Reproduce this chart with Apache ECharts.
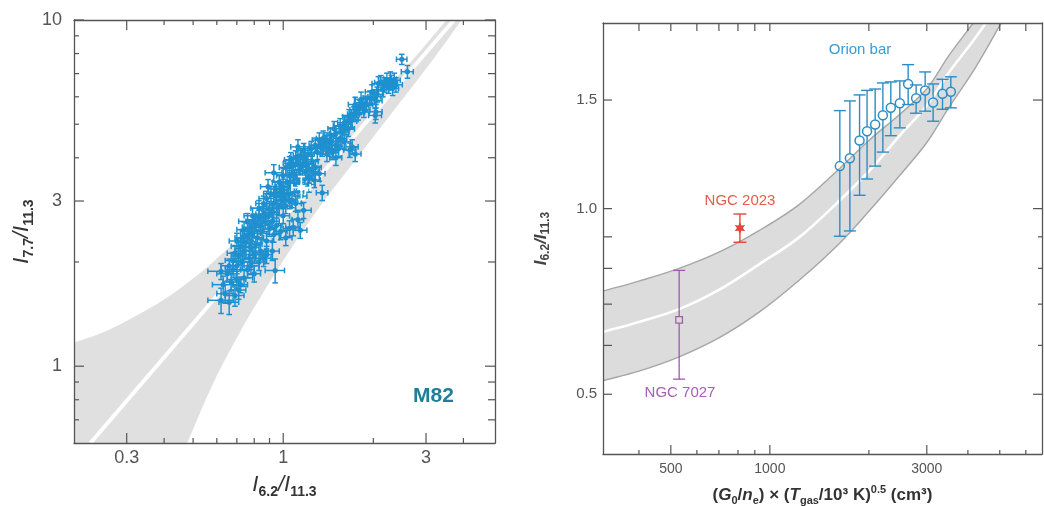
<!DOCTYPE html>
<html>
<head>
<meta charset="utf-8">
<script src="https://cdn.jsdelivr.net/npm/echarts@6.0.0/dist/echarts.min.js"></script>
<style>
html,body{margin:0;padding:0;background:#fff;}
#chart{width:1044px;height:506px;}
</style>
</head>
<body>
<div id="chart"></div>
<script>
// ---------------- DATA ----------------
// Left panel (M82): [I6.2/I11.3, I7.7/I11.3, xErr, yErr]
const m82Points = [
  [0.62,1.55,0.06,0.13],[0.66,1.53,0.05,0.12],[0.64,1.62,0.04,0.10],[0.69,1.60,0.05,0.11],[0.71,1.66,0.04,0.10],
  [0.63,1.72,0.05,0.10],[0.67,1.75,0.04,0.09],[0.70,1.78,0.05,0.10],[0.65,1.85,0.05,0.09],[0.68,1.90,0.04,0.10],
  [0.72,1.72,0.04,0.09],[0.74,1.80,0.05,0.10],[0.62,1.88,0.06,0.10],[0.66,1.95,0.04,0.09],[0.94,1.89,0.07,0.15],
  [0.70,1.95,0.04,0.10],[0.73,2.00,0.05,0.11],[0.76,1.90,0.04,0.10],[0.78,1.95,0.05,0.11],[0.80,1.85,0.04,0.10],
  [0.71,2.08,0.04,0.11],[0.74,2.15,0.05,0.12],[0.77,2.05,0.04,0.11],[0.80,2.10,0.05,0.12],[0.83,2.00,0.04,0.11],
  [0.69,2.12,0.04,0.11],[0.72,2.22,0.05,0.12],[0.75,2.28,0.04,0.12],[0.78,2.20,0.05,0.11],[0.81,2.25,0.04,0.12],
  [0.84,2.15,0.05,0.12],[0.86,2.05,0.05,0.11],[0.88,2.10,0.04,0.12],[0.92,2.15,0.05,0.13],[0.68,2.02,0.04,0.11],
  [0.73,2.35,0.04,0.12],[0.77,2.45,0.05,0.13],[0.80,2.62,0.05,0.13],[0.74,2.48,0.04,0.13],[0.70,2.30,0.04,0.12],
  [0.76,2.62,0.05,0.14],[0.79,2.72,0.05,0.14],
  [0.76,2.38,0.04,0.12],[0.79,2.42,0.05,0.13],[0.82,2.35,0.04,0.12],[0.85,2.45,0.05,0.13],[0.88,2.30,0.04,0.12],
  [0.78,2.52,0.05,0.13],[0.81,2.58,0.04,0.13],[0.84,2.55,0.05,0.14],[0.87,2.62,0.05,0.13],[0.90,2.50,0.04,0.13],
  [0.93,2.40,0.05,0.12],[0.83,2.68,0.04,0.14],[0.86,2.75,0.05,0.14],[0.89,2.70,0.04,0.13],[0.92,2.62,0.05,0.14],
  [0.95,2.55,0.04,0.13],[0.98,2.45,0.05,0.13],[1.02,2.35,0.05,0.12],[1.05,2.50,0.05,0.13],
  [1.08,2.52,0.06,0.14],[1.14,2.47,0.06,0.13],[1.17,2.82,0.07,0.15],[1.12,2.65,0.05,0.14],
  [0.83,2.86,0.05,0.15],[0.86,2.95,0.05,0.15],
  [0.90,2.85,0.05,0.14],[0.93,2.95,0.05,0.15],[0.96,2.88,0.04,0.14],[0.99,3.00,0.05,0.15],[1.02,2.90,0.05,0.14],
  [0.95,3.10,0.05,0.16],[0.98,3.18,0.05,0.16],[1.01,3.08,0.04,0.15],[1.04,3.15,0.05,0.16],[1.07,3.02,0.05,0.15],
  [1.00,3.30,0.05,0.17],[1.03,3.40,0.05,0.17],[1.06,3.28,0.05,0.16],[1.09,3.35,0.05,0.17],[1.12,3.20,0.05,0.16],
  [1.15,3.10,0.05,0.15],[0.93,3.62,0.06,0.20],
  [0.88,3.05,0.05,0.15],[0.91,3.15,0.05,0.16],[0.94,3.25,0.05,0.16],[0.97,3.40,0.05,0.17],[0.89,3.30,0.05,0.16],
  [1.05,3.00,0.05,0.15],[1.10,2.95,0.05,0.15],[0.92,2.78,0.05,0.14],[1.00,2.72,0.05,0.14],
  [1.05,3.55,0.05,0.17],[1.08,3.62,0.05,0.18],[1.11,3.50,0.05,0.17],[1.14,3.70,0.06,0.18],[1.08,3.80,0.05,0.18],
  [1.12,3.88,0.05,0.19],[1.16,3.78,0.06,0.18],[1.19,3.65,0.06,0.18],[1.22,3.55,0.06,0.17],[1.10,4.00,0.05,0.19],
  [1.14,4.05,0.06,0.20],[1.18,3.95,0.06,0.19],[1.21,4.10,0.06,0.20],[1.25,3.90,0.06,0.19],[1.28,3.75,0.06,0.18],
  [1.32,3.60,0.06,0.18],[1.35,3.17,0.06,0.16],[1.17,4.20,0.06,0.20],[1.24,4.25,0.06,0.21],[1.30,4.15,0.06,0.20],
  [1.27,3.45,0.06,0.17],[1.22,3.35,0.06,0.17],[1.06,3.95,0.05,0.19],
  [1.00,3.55,0.05,0.17],[1.02,3.75,0.05,0.18],[1.05,3.85,0.05,0.18],[1.13,3.40,0.05,0.17],[1.18,3.48,0.06,0.17],
  [1.25,3.65,0.06,0.18],[1.20,3.85,0.06,0.19],[1.12,4.30,0.06,0.21],
  [1.28,4.35,0.06,0.21],[1.33,4.30,0.07,0.21],[1.38,4.40,0.07,0.22],[1.42,4.25,0.07,0.21],[1.36,4.55,0.07,0.23],
  [1.40,4.50,0.07,0.22],[1.45,4.45,0.07,0.22],[1.50,4.35,0.07,0.21],[1.46,4.15,0.07,0.20],[1.40,4.10,0.07,0.20],
  [1.55,4.55,0.08,0.23],[1.50,4.00,0.07,0.20],[1.32,4.50,0.07,0.22],
  [1.35,4.25,0.07,0.21],[1.44,4.65,0.07,0.23],[1.50,4.70,0.07,0.23],[1.48,4.85,0.07,0.24],[1.55,4.95,0.08,0.24],
  [1.53,4.25,0.07,0.21],[1.60,4.45,0.08,0.22],
  [1.67,4.21,0.08,0.20],[1.74,4.10,0.08,0.20],[1.70,4.30,0.08,0.21],
  [1.58,4.75,0.08,0.23],[1.62,4.90,0.08,0.24],[1.65,4.85,0.08,0.24],[1.60,5.05,0.08,0.25],[1.68,5.10,0.08,0.25],
  [1.66,5.25,0.08,0.26],[1.72,5.35,0.08,0.26],[1.70,5.15,0.08,0.25],[1.76,5.50,0.09,0.27],[1.80,5.60,0.09,0.27],
  [1.78,5.40,0.09,0.26],[1.84,5.65,0.09,0.28],[1.88,5.75,0.09,0.28],[1.90,5.70,0.09,0.28],[1.86,5.50,0.09,0.27],
  [1.74,5.70,0.09,0.28],[1.82,5.90,0.09,0.29],[1.95,5.95,0.10,0.29],[1.98,6.20,0.10,0.30],
  [2.02,6.00,0.10,0.29],[2.04,5.85,0.10,0.28],[2.06,6.10,0.10,0.30],[2.04,5.43,0.10,0.27],[2.03,5.30,0.10,0.26],
  [2.08,6.55,0.10,0.31],[2.12,6.60,0.10,0.31],[2.15,6.30,0.10,0.30],[2.18,6.50,0.11,0.31],[2.22,6.70,0.11,0.32],
  [2.25,6.45,0.11,0.31],[2.30,6.60,0.11,0.32],[2.35,6.70,0.11,0.32],[2.32,6.35,0.11,0.30],[2.38,6.50,0.12,0.31],
  [2.28,6.75,0.11,0.33],
  [2.49,7.70,0.10,0.26],[2.60,7.09,0.12,0.30]
];
const m82Nucleus = [1.15, 3.28, 0.08, 0.25];
// Left band edges and centre line [x, y]
const m82BandUpper = [[0.2,1.17],[0.252,1.256],[0.325,1.404],[0.42,1.604],[0.542,1.894],[0.617,2.09],[0.701,2.31],[0.817,2.64],[0.882,2.86],[1.5,4.5],[2.5,7.1],[3.513,10],[4.2,12]];
const m82BandLower = [[0.477,0.598],[0.586,0.899],[0.719,1.26],[0.85,1.61],[1.0,2.02],[1.17,2.48],[1.33,2.90],[1.5,3.33],[1.9,4.34],[2.455,5.78],[3.17,7.70],[3.92,9.93],[4.6,12.0]];
const m82CenterLine = [[0.227,0.6],[3.72,10]];

// Right panel: model band
const bandX      = [311, 400, 530, 700, 930, 1230, 1630, 2000, 2500, 3000, 3500, 4200, 5000];
const bandCenter = [0.631,0.655,0.687,0.738,0.813,0.899,1.031,1.149,1.319,1.470,1.662,1.887,2.159];
const bandUpper  = [0.735,0.763,0.800,0.850,0.922,1.016,1.162,1.290,1.427,1.565,1.770,2.017,2.298];
const bandLower  = [0.526,0.545,0.575,0.617,0.680,0.766,0.879,0.990,1.137,1.280,1.458,1.687,1.980];
// Orion bar
const orionX  = [1632,1751,1874,1975,2090,2206,2332,2484,2633,2784,2966,3136,3349,3550];
const orionY  = [1.172,1.207,1.290,1.335,1.369,1.417,1.457,1.482,1.593,1.510,1.554,1.486,1.535,1.547];
const orionLo = [0.902,0.920,1.051,1.117,1.172,1.235,1.313,1.352,1.475,1.428,1.439,1.386,1.449,1.457];
const orionHi = [1.442,1.495,1.529,1.555,1.563,1.599,1.605,1.611,1.712,1.587,1.666,1.593,1.621,1.636];
// NGC 2023 and NGC 7027: [x, y, low, high]
const ngc2023 = [811, 0.930, 0.882, 0.980];
const ngc7027 = [530, 0.660, 0.529, 0.794];

// Ticks and labels
const lXLabels = [0.3, 1, 3];
const lXMinor  = [0.4,0.5,0.6,0.7,0.8,0.9,2,4];
const lYLabels = [1, 3, 10];
const lYMinor  = [0.7,0.8,0.9,2,4,5,6,7,8,9];
const rXLabels = [500, 1000, 3000];
const rXMinor  = [400,600,700,800,900,2000,4000,5000,6000];
const rYLabels = [0.5, 1.0, 1.5];
const rYMinor  = [0.6,0.7,0.8,0.9];

// ---------------- CHART ----------------
const FONT = "'Liberation Sans', Arial, Helvetica, sans-serif";
const LG = Math.log10;
const AX = '#555';
const chart = echarts.init(document.getElementById('chart'), null, {renderer:'canvas'});

const lRange = {x:[0.2, 5.1], y:[0.6, 10]};
const rRange = {x:[311, 6720], y:[0.4, 2.0]};

// label / frame axes (value axes in log10 space, aligned with hidden log axes)
function tAxis(o) {
  const ax = {
    type:'value', gridIndex:o.grid, position:o.pos,
    min:LG(o.range[0]), max:LG(o.range[1]), z:10, silent:true,
    axisLine:{show:true, onZero:false, lineStyle:{color:AX, width:1.3}},
    axisTick:{show:false},
    axisLabel:{show:false},
    splitLine:{show:false}
  };
  if (o.labels) {
    ax.axisLabel = {show:true, customValues:o.labels.map(LG), formatter:o.fmt,
      fontSize:o.fs, color:'#555', margin:o.margin, fontFamily:FONT};
  }
  if (o.name) {
    ax.name = o.name; ax.nameLocation = 'middle'; ax.nameGap = o.nameGap;
    ax.nameTextStyle = o.nameStyle;
  }
  return ax;
}
const fmtL = v => String(Math.round(Math.pow(10, v) * 10) / 10);
const fmtRY = v => Math.pow(10, v).toFixed(1);
const fmtRX = v => String(Math.round(Math.pow(10, v)));

const richBig = {
  m:{fontSize:22, fontStyle:'italic', fontFamily:FONT, color:'#333', lineHeight:28},
  s:{fontSize:14, fontWeight:'bold', fontFamily:FONT, color:'#333', lineHeight:12, verticalAlign:'bottom'}
};
const richSmall = {
  m:{fontSize:17, fontStyle:'italic', fontWeight:'bold', fontFamily:FONT, color:'#444', lineHeight:22},
  s:{fontSize:12, fontWeight:'bold', fontFamily:FONT, color:'#444', lineHeight:10, verticalAlign:'bottom'}
};
const richXR = {
  b:{fontSize:17, fontWeight:'bold', fontFamily:FONT, color:'#333', lineHeight:22},
  bi:{fontSize:17, fontWeight:'bold', fontStyle:'italic', fontFamily:FONT, color:'#333', lineHeight:22},
  sb:{fontSize:11, fontWeight:'bold', fontFamily:FONT, color:'#333', lineHeight:10, verticalAlign:'bottom'},
  sp:{fontSize:11, fontWeight:'bold', fontFamily:FONT, color:'#333', lineHeight:10, verticalAlign:'top'}
};

const xAxes = [
  {type:'log', gridIndex:0, min:lRange.x[0], max:lRange.x[1], show:false},
  {type:'log', gridIndex:1, min:rRange.x[0], max:rRange.x[1], show:false},
  tAxis({grid:0, pos:'bottom', range:lRange.x, labels:lXLabels, fmt:fmtL, fs:18, margin:6,
         name:'{m|I}{s|6.2}{m|/I}{s|11.3}', nameGap:28, nameStyle:{rich:richBig}}),
  tAxis({grid:0, pos:'top', range:lRange.x}),
  tAxis({grid:1, pos:'bottom', range:rRange.x, labels:rXLabels, fmt:fmtRX, fs:14, margin:8,
         name:'{b|(}{bi|G}{sb|0}{b|/}{bi|n}{sb|e}{b|) × (}{bi|T}{sb|gas}{b|/10³ K)}{sp|0.5}{b| (cm³)}', nameGap:30, nameStyle:{rich:richXR}}),
  tAxis({grid:1, pos:'top', range:rRange.x})
];
const yAxes = [
  {type:'log', gridIndex:0, min:lRange.y[0], max:lRange.y[1], show:false},
  {type:'log', gridIndex:1, min:rRange.y[0], max:rRange.y[1], show:false},
  tAxis({grid:0, pos:'left', range:lRange.y, labels:lYLabels, fmt:fmtL, fs:18, margin:12,
         name:'{m|I}{s|7.7}{m|/I}{s|11.3}', nameGap:38, nameStyle:{rich:richBig}}),
  tAxis({grid:0, pos:'right', range:lRange.y}),
  tAxis({grid:1, pos:'left', range:rRange.y, labels:rYLabels, fmt:fmtRY, fs:15, margin:6,
         name:'{m|I}{s|6.2}{m|/I}{s|11.3}', nameGap:51, nameStyle:{rich:richSmall}}),
  tAxis({grid:1, pos:'right', range:rRange.y})
];

// inward tick marks drawn through the data axes
function tickSeries(idx, range, specs) {
  return {
    type:'custom', xAxisIndex:idx, yAxisIndex:idx, clip:false, silent:true, z:10,
    data:[[range.x[0], range.y[0]]],
    renderItem(params, api) {
      const cs = params.coordSys;
      const ch = [];
      const st = {stroke:AX, lineWidth:1.2};
      specs.forEach(s => s.vals.forEach(v => {
        if (s.side === 'bottom' || s.side === 'top') {
          const x = api.coord([v, range.y[0]])[0];
          const y0 = s.side === 'bottom' ? cs.y + cs.height : cs.y;
          const y1 = s.side === 'bottom' ? y0 - s.len : y0 + s.len;
          ch.push({type:'line', shape:{x1:x, y1:y0, x2:x, y2:y1}, style:st});
        } else {
          const y = api.coord([range.x[0], v])[1];
          const x0 = s.side === 'left' ? cs.x : cs.x + cs.width;
          const x1 = s.side === 'left' ? x0 + s.len : x0 - s.len;
          ch.push({type:'line', shape:{x1:x0, y1:y, x2:x1, y2:y}, style:st});
        }
      }));
      return {type:'group', children:ch};
    }
  };
}

function starPts(cx, cy, R, r, n) {
  const p = [];
  for (let i = 0; i < 2 * n; i++) {
    const a = -Math.PI / 2 + i * Math.PI / n;
    const rr = i % 2 === 0 ? R : r;
    p.push([cx + rr * Math.cos(a), cy + rr * Math.sin(a)]);
  }
  return p;
}
function ext(a, b) { return [2 * a[0] - b[0], 2 * a[1] - b[1]]; }

// Error-bar series: rows [x, y, xlo, xhi, ylo, yhi]
function errSeries(o) {
  return {
    type:'custom', xAxisIndex:o.axis, yAxisIndex:o.axis, clip:true, silent:true, z:o.z || 3,
    data:o.data, encode:{x:[0,2,3], y:[1,4,5]},
    renderItem(params, api) {
      const x = api.value(0), y = api.value(1);
      const c = api.coord([x, y]);
      const st = {stroke:o.color, lineWidth:o.lw, fill:null};
      const ch = [];
      const xlo = api.value(2), xhi = api.value(3);
      if (xlo !== xhi) {
        const a = api.coord([xlo, y])[0], b = api.coord([xhi, y])[0];
        ch.push({type:'line', shape:{x1:a, y1:c[1], x2:b, y2:c[1]}, style:st});
        ch.push({type:'line', shape:{x1:a, y1:c[1]-o.cap, x2:a, y2:c[1]+o.cap}, style:st});
        ch.push({type:'line', shape:{x1:b, y1:c[1]-o.cap, x2:b, y2:c[1]+o.cap}, style:st});
      }
      const lo = api.coord([x, api.value(4)])[1], hi = api.coord([x, api.value(5)])[1];
      const g = o.gap || 0;
      if (g) {
        ch.push({type:'line', shape:{x1:c[0], y1:hi, x2:c[0], y2:c[1]-g}, style:st});
        ch.push({type:'line', shape:{x1:c[0], y1:c[1]+g, x2:c[0], y2:lo}, style:st});
      } else {
        ch.push({type:'line', shape:{x1:c[0], y1:hi, x2:c[0], y2:lo}, style:st});
      }
      ch.push({type:'line', shape:{x1:c[0]-o.cap, y1:hi, x2:c[0]+o.cap, y2:hi}, style:st});
      ch.push({type:'line', shape:{x1:c[0]-o.cap, y1:lo, x2:c[0]+o.cap, y2:lo}, style:st});
      if (o.marker === 'dot') {
        ch.push({type:'circle', shape:{cx:c[0], cy:c[1], r:o.size}, style:{fill:o.color}});
      } else if (o.marker === 'ring') {
        ch.push({type:'circle', shape:{cx:c[0], cy:c[1], r:o.size}, style:{fill:null, stroke:o.color, lineWidth:1.5}});
      } else if (o.marker === 'square') {
        ch.push({type:'rect', shape:{x:c[0]-o.size, y:c[1]-o.size, width:2*o.size, height:2*o.size}, style:{fill:null, stroke:o.color, lineWidth:1.2}});
      } else if (o.marker === 'star') {
        ch.push({type:'polygon', shape:{points:starPts(c[0], c[1], o.size, o.size*0.5, 6)}, style:{fill:o.color}});
      }
      return {type:'group', children:ch};
    }
  };
}

const m82Rows = m82Points.map(p => [p[0], p[1], p[0]-p[2], p[0]+p[2], p[1]-p[3], p[1]+p[3]]);
const nucRow = [m82Nucleus[0], m82Nucleus[1], m82Nucleus[0]-m82Nucleus[2], m82Nucleus[0]+m82Nucleus[2], m82Nucleus[1]-m82Nucleus[3], m82Nucleus[1]+m82Nucleus[3]];
const orionRows = orionX.map((x, i) => [x, orionY[i], x, x, orionLo[i], orionHi[i]]);
const SM = 0.35;

const series = [
  // left band
  {type:'custom', xAxisIndex:0, yAxisIndex:0, clip:true, silent:true, z:1, data:[[1,1]],
   renderItem(params, api) {
     const cs = params.coordSys;
     const up = m82BandUpper.map(p => api.coord(p));
     const lo = m82BandLower.map(p => api.coord(p));
     const pts = [ext(up[0], up[1])].concat(up, [ext(up[up.length-1], up[up.length-2])],
       [ext(lo[lo.length-1], lo[lo.length-2])], lo.slice().reverse(), [ext(lo[0], lo[1])],
       [[cs.x - 150, cs.y + cs.height + 150]]);
     return {type:'polygon', shape:{points:pts, smooth:SM}, style:{fill:'#e0e0e0'}};
   }},
  {type:'line', xAxisIndex:0, yAxisIndex:0, data:m82CenterLine, symbol:'none', silent:true, z:2,
   lineStyle:{color:'#fff', width:4}, animation:false},
  errSeries({axis:0, data:m82Rows, color:'#1e90cf', lw:1.5, cap:2.8, marker:'dot', size:2.6, z:3}),
  errSeries({axis:0, data:[nucRow], color:'#ffffff', lw:1.6, cap:3.5, marker:'star', size:5.5, z:4}),
  // right band
  {type:'custom', xAxisIndex:1, yAxisIndex:1, clip:true, silent:true, z:1, data:[[1000,1]],
   renderItem(params, api) {
     const up = bandX.map((x, i) => api.coord([x, bandUpper[i]]));
     const lo = bandX.map((x, i) => api.coord([x, bandLower[i]]));
     const ce = bandX.map((x, i) => api.coord([x, bandCenter[i]]));
     const n = bandX.length;
     const upE = [ext(up[0], up[1])].concat(up, [ext(up[n-1], up[n-2])]);
     const loE = [ext(lo[0], lo[1])].concat(lo, [ext(lo[n-1], lo[n-2])]);
     const ceE = [ext(ce[0], ce[1])].concat(ce, [ext(ce[n-1], ce[n-2])]);
     return {type:'group', children:[
       {type:'polygon', shape:{points:upE.concat(loE.slice().reverse()), smooth:SM}, style:{fill:'#dcdcdc'}},
       {type:'polyline', shape:{points:upE, smooth:SM}, style:{stroke:'#a6a6a6', lineWidth:1.4, fill:null}},
       {type:'polyline', shape:{points:loE, smooth:SM}, style:{stroke:'#a6a6a6', lineWidth:1.4, fill:null}},
       {type:'polyline', shape:{points:ceE, smooth:SM}, style:{stroke:'#ffffff', lineWidth:2.6, fill:null}}
     ]};
   }},
  errSeries({axis:1, data:orionRows, color:'#2b8dc6', lw:1.4, cap:6, marker:'ring', size:4.5, gap:4.5, z:3}),
  errSeries({axis:1, data:[[ngc2023[0], ngc2023[1], ngc2023[0], ngc2023[0], ngc2023[2], ngc2023[3]]], color:'#e6453b', lw:1.4, cap:6.5, marker:'star', size:6, z:3}),
  errSeries({axis:1, data:[[ngc7027[0], ngc7027[1], ngc7027[0], ngc7027[0], ngc7027[2], ngc7027[3]]], color:'#9d5aab', lw:1.3, cap:6, marker:'square', size:3.3, gap:3.3, z:3}),
  // tick marks
  tickSeries(0, lRange, [
    {side:'bottom', vals:lXLabels, len:10}, {side:'bottom', vals:lXMinor, len:5},
    {side:'top', vals:lXLabels, len:10}, {side:'top', vals:lXMinor, len:5},
    {side:'left', vals:lYLabels, len:10}, {side:'left', vals:lYMinor, len:5},
    {side:'right', vals:lYLabels, len:10}, {side:'right', vals:lYMinor, len:7}
  ]),
  tickSeries(1, rRange, [
    {side:'bottom', vals:rXLabels, len:9}, {side:'bottom', vals:rXMinor, len:4},
    {side:'top', vals:rXLabels.concat(rXMinor), len:8},
    {side:'left', vals:rYLabels.concat(rYMinor), len:9},
    {side:'right', vals:rYLabels, len:9}, {side:'right', vals:rYMinor, len:4}
  ])
];

const option = {
  animation:false,
  backgroundColor:'#ffffff',
  grid:[
    {left:74, top:20, width:421, height:423, show:false, containLabel:false, outerBoundsMode:'none'},
    {left:603, top:23, width:439, height:431, show:false, containLabel:false, outerBoundsMode:'none'}
  ],
  xAxis:xAxes,
  yAxis:yAxes,
  series:series,
  graphic:[
    {type:'text', left:413, top:386, z:20, style:{text:'M82', font:"bold 21px 'Liberation Sans', Arial, sans-serif", fill:'#1f7f99'}},
    {type:'text', x:860, y:50, z:20, style:{text:'Orion bar', font:"15px 'Liberation Sans', Arial, sans-serif", fill:'#3a9ad6', align:'center', verticalAlign:'middle'}},
    {type:'text', x:740, y:201, z:20, style:{text:'NGC 2023', font:"15px 'Liberation Sans', Arial, sans-serif", fill:'#e55b4d', align:'center', verticalAlign:'middle'}},
    {type:'text', x:680, y:393, z:20, style:{text:'NGC 7027', font:"15px 'Liberation Sans', Arial, sans-serif", fill:'#a45fb4', align:'center', verticalAlign:'middle'}}
  ]
};
chart.setOption(option);
</script>
</body>
</html>
